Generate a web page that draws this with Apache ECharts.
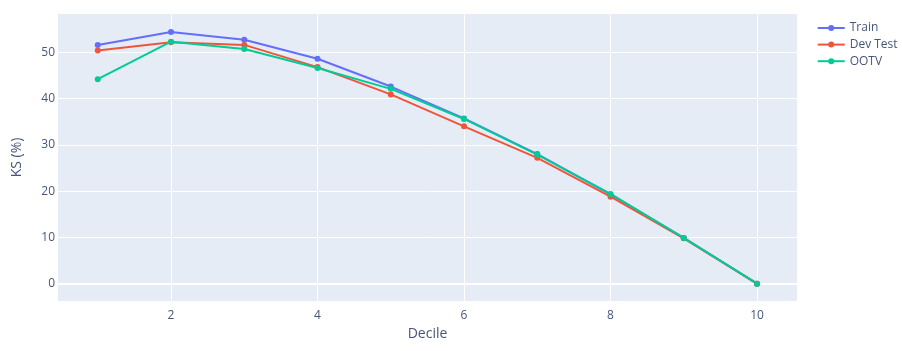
<!DOCTYPE html>
<html>
<head>
<meta charset="utf-8">
<script src="https://cdn.jsdelivr.net/npm/echarts@6/dist/echarts.min.js"></script>
<style>
  html, body { margin: 0; padding: 0; background: #fff; }
  #chart { width: 902px; height: 351px; }
</style>
</head>
<body>
<div id="chart"></div>
<script>
// deciles and KS values
const deciles = [1, 2, 3, 4, 5, 6, 7, 8, 9, 10]
const trainKs = [51.6, 54.4, 52.7, 48.6, 42.6, 35.7, 28.0, 19.3, 9.9, 0]
const devTestKs = [50.4, 52.2, 51.6, 46.8, 40.9, 34.0, 27.2, 18.8, 9.8, 0]
const ootvKs = [44.2, 52.3, 50.7, 46.6, 42.1, 35.6, 27.9, 19.4, 9.9, 0]
const xTicks = [2, 4, 6, 8, 10]
const yTicks = [0, 10, 20, 30, 40, 50]

const font = '"Open Sans", verdana, arial, sans-serif'
const textColor = '#46567a'

const toPairs = (vals) => deciles.map((d, i) => [d, vals[i]])

const makeSeries = (name, vals, color) => ({
  name: name,
  type: 'line',
  data: toPairs(vals),
  symbol: 'circle',
  symbolSize: 6,
  lineStyle: { width: 2, color: color },
  itemStyle: { color: color },
  emphasis: { disabled: true },
  z: 3
})

const chart = echarts.init(document.getElementById('chart'))

const series = [
  makeSeries('Train', trainKs, '#636efa'),
  makeSeries('Dev Test', devTestKs, '#EF553B'),
  makeSeries('OOTV', ootvKs, '#00cc96')
]
// zero line, a bit thicker like plotly
series[0].markLine = {
  silent: true,
  symbol: 'none',
  label: { show: false },
  lineStyle: { color: '#ffffff', width: 2, type: 'solid' },
  data: [{ yAxis: 0 }],
  z: 1
}

chart.setOption({
  animation: false,
  textStyle: { fontFamily: font },
  grid: {
    left: 58,
    top: 14,
    right: 105,
    bottom: 50,
    show: true,
    backgroundColor: '#E5ECF6',
    borderWidth: 0
  },
  legend: {
    orient: 'vertical',
    left: 816.7,
    top: 22,
    padding: 0,
    itemWidth: 27,
    itemHeight: 7.5,
    itemGap: 4.6,
    textStyle: { color: textColor, fontSize: 12, fontFamily: font },
    data: ['Train', 'Dev Test', 'OOTV']
  },
  xAxis: {
    type: 'value',
    min: 0.457,
    max: 10.546,
    name: 'Decile',
    nameLocation: 'middle',
    nameGap: 26,
    nameTextStyle: { color: textColor, fontSize: 14, fontFamily: font },
    axisLine: { show: false },
    axisTick: { show: false, customValues: xTicks },
    axisLabel: { customValues: xTicks, color: textColor, fontSize: 12, margin: 9 },
    splitLine: { show: true, lineStyle: { color: '#ffffff', width: 1 } }
  },
  yAxis: {
    type: 'value',
    min: -3.74,
    max: 58.28,
    name: 'KS (%)',
    nameLocation: 'middle',
    nameGap: 34,
    nameTextStyle: { color: textColor, fontSize: 14, fontFamily: font },
    axisLine: { show: false },
    axisTick: { show: false, customValues: yTicks },
    axisLabel: { customValues: yTicks, color: textColor, fontSize: 12, margin: 3 },
    splitLine: { show: true, lineStyle: { color: '#ffffff', width: 1 } }
  },
  series: series
})
</script>
</body>
</html>
